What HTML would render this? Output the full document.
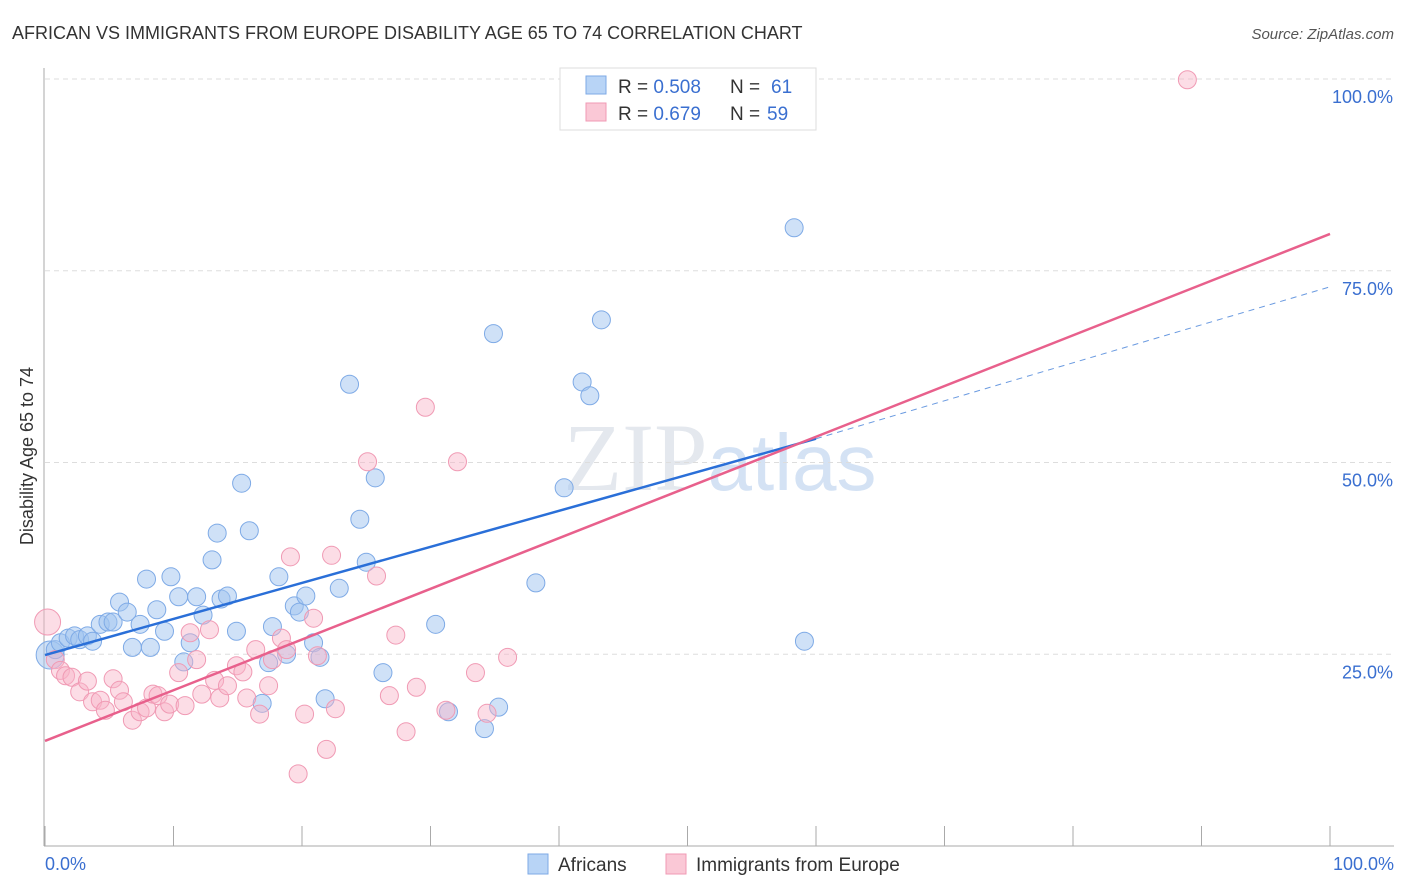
<!DOCTYPE html>
<html><head><meta charset="utf-8"><style>
body{margin:0;background:#fff;font-family:"Liberation Sans",sans-serif}
svg{display:block}
</style></head><body>
<svg id="c" width="1406" height="892" xmlns="http://www.w3.org/2000/svg">
<text x="12" y="39" font-size="18" fill="#333">AFRICAN VS IMMIGRANTS FROM EUROPE DISABILITY AGE 65 TO 74 CORRELATION CHART</text>
<text x="1394" y="39" font-size="15" fill="#555" font-style="italic" text-anchor="end">Source: ZipAtlas.com</text>
<text x="720" y="490" font-size="96" fill="#e4e8ee" text-anchor="middle" font-family="Liberation Serif,serif">ZIP<tspan fill="#d4e2f4" font-family="Liberation Sans,sans-serif" font-size="80">atlas</tspan></text>
<g id="grid"></g>
<g id="axes"></g>
<g id="pts"></g>
<g id="trend"></g>
<text transform="translate(33,456) rotate(-90)" font-size="18" fill="#333" text-anchor="middle">Disability Age 65 to 74</text>
<text x="45" y="870" font-size="18" fill="#3a6fd0">0.0%</text>
<text x="1394" y="870" font-size="18" fill="#3a6fd0" text-anchor="end">100.0%</text>
<g>
<rect x="560" y="68" width="256" height="62" fill="#fff" stroke="#ddd"/>
<rect x="586" y="76" width="20" height="18" fill="#b8d4f6" stroke="#7eaae6"/>
<rect x="586" y="103" width="20" height="18" fill="#fac8d6" stroke="#f09ab4"/>
<text x="618" y="93" font-size="19" fill="#333">R = <tspan fill="#3a6fd0">0.508</tspan><tspan x="730">N = </tspan><tspan fill="#3a6fd0" x="771">61</tspan></text>
<text x="618" y="120" font-size="19" fill="#333">R = <tspan fill="#3a6fd0">0.679</tspan><tspan x="730">N = </tspan><tspan fill="#3a6fd0" x="767">59</tspan></text>
</g>
<g>
<rect x="528" y="854" width="20" height="20" fill="#b8d4f6" stroke="#7eaae6"/>
<text x="558" y="871" font-size="19" fill="#333">Africans</text>
<rect x="666" y="854" width="20" height="20" fill="#fac8d6" stroke="#f09ab4"/>
<text x="696" y="871" font-size="19" fill="#333">Immigrants from Europe</text>
</g>
</svg>
<script>
const yTicks=[25,50,75,100];
const yTickLabels=["25.0%","50.0%","75.0%","100.0%"];
const xTicks=[0,10,20,30,40,50,60,70,80,90,100];
const bluePx=[[50,655],[55,650],[60,643],[68,638],[75,636],[80,640],[88,636],[93,641],[100,624],[108,622],[113,622],[120,602],[127,612],[132,647],[140,624],[146,579],[151,647],[157,610],[165,631],[171,577],[178,597],[184,662],[190,643],[196,597],[203,615],[212,560],[217,533],[221,599],[228,596],[236,631],[242,483],[249,531],[262,703],[268,663],[273,627],[279,577],[287,654],[294,606],[300,612],[306,596],[313,643],[320,657],[325,699],[339,588],[349,384],[360,519],[366,562],[375,478],[383,673],[436,624],[448,712],[484,729],[498,707],[493,334],[536,583],[564,488],[582,382],[590,396],[602,320],[794,228],[804,641]];
const pinkPx=[[48,622],[55,660],[60,670],[65,676],[72,677],[80,692],[88,681],[93,702],[100,700],[106,710],[113,679],[119,690],[124,702],[133,720],[140,712],[146,708],[153,694],[158,696],[164,712],[170,704],[178,673],[185,706],[190,633],[197,660],[202,694],[210,630],[215,680],[220,698],[228,686],[236,666],[243,672],[247,698],[256,650],[260,714],[268,686],[273,660],[281,638],[287,650],[290,557],[298,774],[305,714],[313,618],[318,656],[326,749],[336,709],[332,555],[367,462],[376,576],[389,696],[396,635],[406,732],[416,687],[426,407],[446,710],[457,462],[476,673],[487,713],[507,657],[1188,80]];
// convert digitized pixel readings into data values (%)
const blueX=bluePx.map(p=>+((p[0]-45)/12.85).toFixed(1)), blueY=bluePx.map(p=>+((846-p[1])/7.67).toFixed(1));
const pinkX=pinkPx.map(p=>+((p[0]-45)/12.85).toFixed(1)), pinkY=pinkPx.map(p=>+((846-p[1])/7.67).toFixed(1));
const blueTrend=[0,24.9,60,53.1,100,72.9];
const pinkTrend=[0,13.7,100,79.8];
const X=v=>45+v*12.85, Y=v=>846-v*7.67;
const NS="http://www.w3.org/2000/svg";
function mk(t,a,p){const e=document.createElementNS(NS,t);for(const k in a)e.setAttribute(k,a[k]);p.appendChild(e);return e;}
const grid=document.getElementById('grid'),axes=document.getElementById('axes'),pts=document.getElementById('pts'),tr=document.getElementById('trend');
yTicks.forEach((v,i)=>{
 const l=mk('line',{x1:45,x2:1394,y1:Y(v),y2:Y(v),stroke:'#ddd','stroke-dasharray':'5,4'},grid);
 
 
 const t=mk('text',{x:1393,y:Y(v)+24,'font-size':18,fill:'#3a6fd0','text-anchor':'end'},grid);t.textContent=yTickLabels[i];
 
 
});
mk('line',{x1:44,x2:44,y1:68,y2:846,stroke:'#aaa'},axes);
mk('line',{x1:44,x2:1394,y1:846,y2:846,stroke:'#aaa'},axes);
xTicks.forEach(v=>{const l=mk('line',{x1:X(v),x2:X(v),y1:826,y2:846,stroke:'#aaa'},axes);
 
 });
blueX.forEach((x,i)=>{const c=mk('circle',{cx:X(x),cy:Y(blueY[i]),r:i==0?14:9,fill:'rgba(160,196,240,0.5)',stroke:'#7eaae6','stroke-width':1},pts);
 
 });
pinkX.forEach((x,i)=>{const c=mk('circle',{cx:X(x),cy:Y(pinkY[i]),r:i==0?13:9,fill:'rgba(248,180,200,0.45)',stroke:'#f09ab4','stroke-width':1},pts);
 
 });
let l=mk('line',{x1:X(blueTrend[0]),y1:Y(blueTrend[1]),x2:X(blueTrend[2]),y2:Y(blueTrend[3]),stroke:'#2a6fd8','stroke-width':2.5},tr);


l=mk('line',{x1:X(blueTrend[2]),y1:Y(blueTrend[3]),x2:X(blueTrend[4]),y2:Y(blueTrend[5]),stroke:'#6a9ae0','stroke-width':1,'stroke-dasharray':'6,5'},tr);


l=mk('line',{x1:X(pinkTrend[0]),y1:Y(pinkTrend[1]),x2:X(pinkTrend[2]),y2:Y(pinkTrend[3]),stroke:'#e8608c','stroke-width':2.5},tr);


</script>
</body></html>
